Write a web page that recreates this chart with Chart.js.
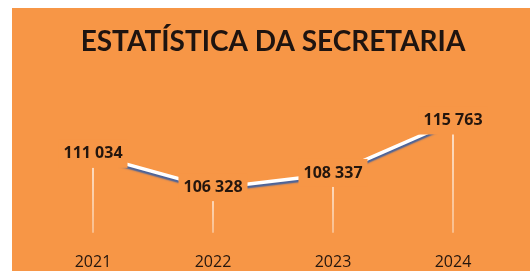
<!DOCTYPE html>
<html lang="pt">
<head>
<meta charset="UTF-8">
<title>ESTATÍSTICA DA SECRETARIA</title>
<script src="https://cdn.jsdelivr.net/npm/chart.js"></script>
<style>
  html, body { margin: 0; padding: 0; background: #ffffff; }
  #painel {
    position: absolute; left: 12px; top: 8px;
    width: 518px; height: 263px;
    background: #f79646;
  }
  #grafico { display: block; }
</style>
</head>
<body>
<div id="painel">
  <canvas id="grafico" width="518" height="263"></canvas>
</div>

<script>
// dados
const anos = ['2021', '2022', '2023', '2024'];
const totais = [111034, 106328, 108337, 115763];
const titulo = 'ESTATÍSTICA DA SECRETARIA';

const laranja = '#f79646';

function formatar(v) {
  return String(v).replace(/\B(?=(\d{3})+(?!\d))/g, ' ');
}

// linhas verticais do ponto até o eixo
const linhasQueda = {
  id: 'linhasQueda',
  beforeDatasetsDraw(chart) {
    const ctx = chart.ctx;
    const meta = chart.getDatasetMeta(0);
    const fundo = chart.chartArea.bottom;
    ctx.save();
    meta.data.forEach(function (p) {
      const g = ctx.createLinearGradient(0, p.y, 0, fundo);
      g.addColorStop(0, 'rgba(255,255,255,0.95)');
      g.addColorStop(1, 'rgba(255,255,255,0.5)');
      ctx.strokeStyle = g;
      ctx.lineWidth = 1.5;
      ctx.beginPath();
      ctx.moveTo(p.x, p.y);
      ctx.lineTo(p.x, fundo);
      ctx.stroke();
    });
    ctx.restore();
  }
};

// sombra azul por baixo da linha branca
const sombraLinha = {
  id: 'sombraLinha',
  beforeDatasetDraw(chart) {
    const ctx = chart.ctx;
    ctx.save();
    ctx.shadowColor = 'rgba(60,95,160,0.95)';
    ctx.shadowOffsetX = 0;
    ctx.shadowOffsetY = 2.5;
    ctx.shadowBlur = 1.5;
  },
  afterDatasetDraw(chart) {
    chart.ctx.restore();
  }
};

// rótulos de dados com fundo laranja
const rotulos = {
  id: 'rotulos',
  afterDatasetsDraw(chart) {
    const ctx = chart.ctx;
    const meta = chart.getDatasetMeta(0);
    ctx.save();
    ctx.font = 'bold 16px "Open Sans"';
    ctx.textAlign = 'center';
    ctx.textBaseline = 'middle';
    meta.data.forEach(function (p, i) {
      const txt = formatar(totais[i]);
      const w = ctx.measureText(txt).width + 10;
      const h = 28;
      ctx.fillStyle = laranja;
      ctx.fillRect(p.x - w / 2, p.y - h / 2 - 1, w, h);
      ctx.fillStyle = '#24160e';
      ctx.fillText(txt, p.x, p.y - 1);
    });
    ctx.restore();
  }
};

new Chart(document.getElementById('grafico'), {
  type: 'line',
  data: {
    labels: anos,
    datasets: [{
      data: totais,
      borderColor: '#ffffff',
      borderWidth: 3.5,
      borderCapStyle: 'butt',
      pointRadius: 0,
      tension: 0,
      fill: false
    }]
  },
  options: {
    responsive: false,
    animation: false,
    layout: { padding: { left: 21, right: 17, top: 0, bottom: -21 } },
    plugins: {
      legend: { display: false },
      tooltip: { enabled: false },
      title: {
        display: true,
        text: titulo,
        color: '#1e1410',
        font: { family: 'Lato', size: 28, weight: 'bold', lineHeight: 1.2 },
        padding: { top: 17, bottom: 33 }
      }
    },
    scales: {
      x: {
        offset: true,
        grid: { display: false, drawTicks: false },
        border: { display: false },
        ticks: {
          color: '#24160e',
          font: { family: 'Open Sans', size: 16 },
          padding: 20
        }
      },
      y: {
        display: false,
        min: 100000,
        max: 120000
      }
    }
  },
  plugins: [linhasQueda, sombraLinha, rotulos]
});
</script>
</body>
</html>
